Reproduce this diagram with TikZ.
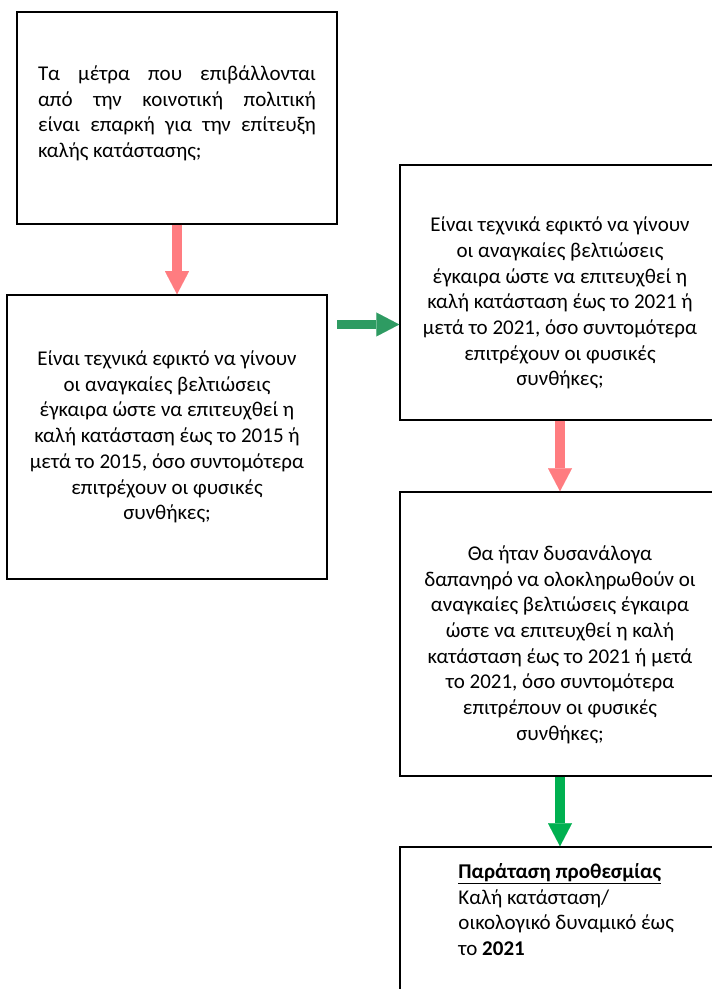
\documentclass[tikz,border=0pt]{standalone}
\usepackage{fontspec}
\setmainfont{Carlito}
\usepackage{xcolor}
\usepackage{tikz}
\usetikzlibrary{arrows.meta, positioning}
\definecolor{arrowPink}{RGB}{255, 124, 128}
\definecolor{arrowSea}{RGB}{46, 155, 98}
\definecolor{arrowGreen}{RGB}{0, 176, 80}

\begin{document}
\begin{tikzpicture}[x=1pt, y=1pt,
        stepbox/.style={rectangle, draw=black, line width=1.5pt, minimum width=320pt,
            font=\fontsize{21}{25.7}\selectfont, align=center, inner sep=0pt},
        blockarrow/.style={-{Triangle[width=24pt, length=23pt, line width=0.01pt]}, line width=9.5pt}]
        \useasboundingbox (0,0) rectangle (712,989);

        % Boxes
        \node[stepbox, minimum height=212pt, text width=278pt, align=justify]
            (measures) at (177,871) {Τα μέτρα που επιβάλλονται\linebreak
            από την κοινοτική πολιτική\linebreak
            είναι επαρκή για την επίτευξη\linebreak
            καλής κατάστασης;\rule[-13pt]{0pt}{0pt}};
        \node[stepbox, minimum height=284pt]
            (feasible2015) at (167,552) {Είναι τεχνικά εφικτό να γίνουν\\
            οι αναγκαίες βελτιώσεις\\ έγκαιρα ώστε να επιτευχθεί η\\
            καλή κατάσταση έως το 2015 ή\\ μετά το 2015, όσο συντομότερα\\
            επιτρέχουν οι φυσικές\\ συνθήκες;};
        \node[stepbox, minimum height=255pt]
            (feasible2021) at (560,696.5) {\rule{0pt}{36pt}Είναι τεχνικά εφικτό να γίνουν\\
            οι αναγκαίες βελτιώσεις\\ έγκαιρα ώστε να επιτευχθεί η\\
            καλή κατάσταση έως το 2021 ή\\ μετά το 2021, όσο συντομότερα\\
            επιτρέχουν οι φυσικές\\ συνθήκες;};
        \node[stepbox, minimum height=284pt]
            (costly) at (560,355) {\rule{0pt}{36pt}Θα ήταν δυσανάλογα\\
            δαπανηρό να ολοκληρωθούν οι\\ αναγκαίες βελτιώσεις έγκαιρα\\
            ώστε να επιτευχθεί η καλή\\ κατάσταση έως το 2021 ή μετά\\
            το 2021, όσο συντομότερα\\ επιτρέπουν οι φυσικές\\ συνθήκες;};
        \node[stepbox, minimum height=212pt] (extension) at (560,36) {};
        \node[font=\fontsize{21}{25.7}\selectfont, align=left, inner sep=0pt,
            below right=17pt and 59pt of extension.north west]
            (extensiontext) {\underline{\textbf{Παράταση προθεσμίας}}\\
            Καλή κατάσταση/\\ οικολογικό δυναμικό έως\\ το \textbf{2021}};

        % Arrows
        \coordinate (seastart) at (337,664.5);
        \draw[blockarrow, arrowPink] (measures.south) -- (measures.south |- feasible2015.north);
        \draw[blockarrow, arrowSea] (seastart) -- (seastart -| feasible2021.west);
        \draw[blockarrow, arrowPink] (feasible2021.south) -- (costly.north);
        \draw[blockarrow, arrowGreen] (costly.south) -- (extension.north);
    \end{tikzpicture}
\end{document}
